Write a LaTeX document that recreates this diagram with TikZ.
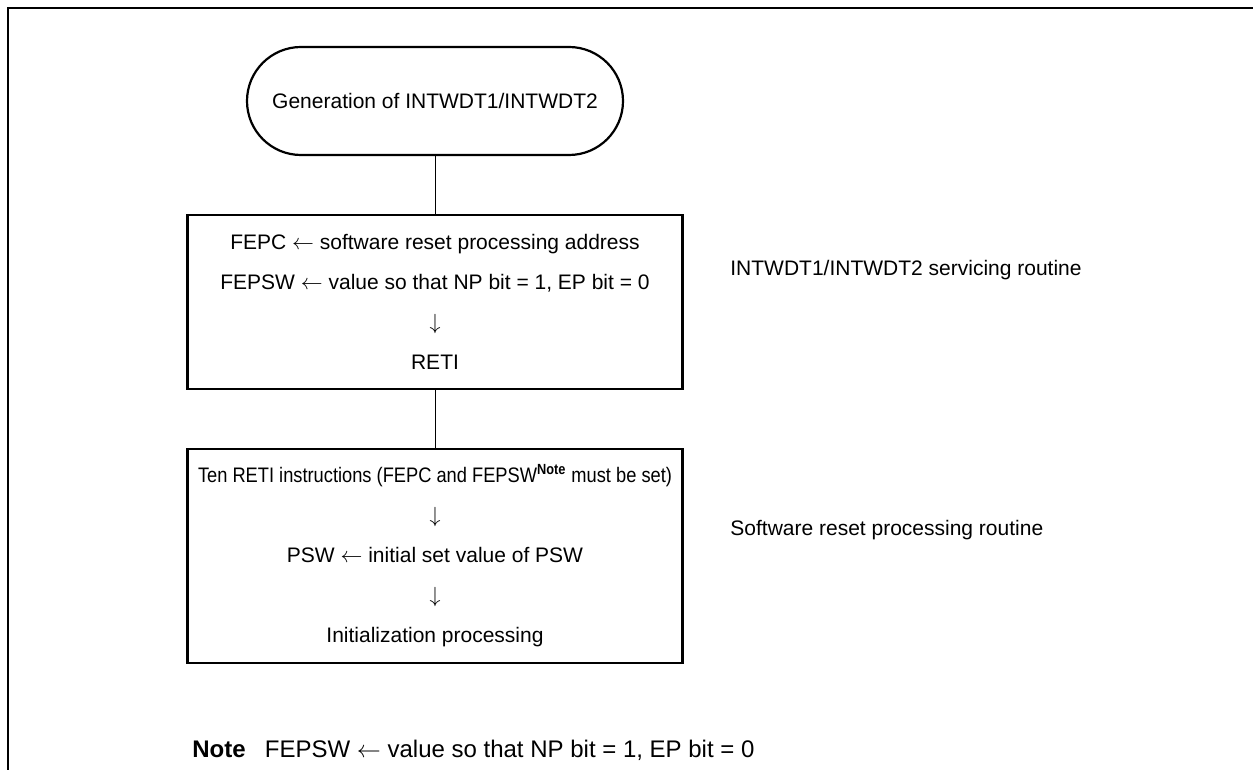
\documentclass[tikz,border=0pt]{standalone}
\usepackage{fontspec}
\setmainfont{Liberation Sans}
\usetikzlibrary{positioning}

\begin{document}
\begin{tikzpicture}[x=0.5pt, y=-0.5pt,
    frame/.style={line width=1.3pt},
    term/.style={draw, line width=1.1pt, rounded corners=27pt, minimum width=188pt, minimum height=54pt, font=\fontsize{10.5}{12}\selectfont},
    proc/.style={draw, line width=1.1pt, minimum width=247.5pt, align=center, font=\fontsize{10.5}{20}\selectfont},
    link/.style={line width=0.5pt},
    side/.style={anchor=west, inner sep=0pt, font=\fontsize{10.5}{12}\selectfont}
]
\useasboundingbox (0,0) rectangle (1253,770);
\draw[frame] (8,770) -- (8,8) -- (1260,8);

\node[term] (gen) at (435,101) {Generation of INTWDT1/INTWDT2};
\node[proc, minimum height=87pt] (isr) at (435,302) {FEPC $\leftarrow$ software reset processing address\\
  FEPSW $\leftarrow$ value so that NP bit = 1, EP bit = 0\\ $\downarrow$\\ RETI};
\node[proc, minimum height=107pt] (reset) at (435,556) {\scalebox{0.87}[1]{Ten RETI instructions (FEPC and FEPSW\textsuperscript{\textbf{Note}} must be set)}\\
  $\downarrow$\\ PSW $\leftarrow$ initial set value of PSW\\ $\downarrow$\\ Initialization processing};

\draw[link] (gen.south) -- (isr.north);
\draw[link] (isr.south) -- (reset.north);

\node[side] (isrlbl) at (730,270) {INTWDT1/INTWDT2 servicing routine};
\node[side] (resetlbl) at (730,530) {Software reset processing routine};

\node[side, font=\fontsize{12}{14}\selectfont] (note) at (192,750) {\textbf{Note}\hspace{0.8em}FEPSW $\leftarrow$ value so that NP bit = 1, EP bit = 0};
\end{tikzpicture}
\end{document}
